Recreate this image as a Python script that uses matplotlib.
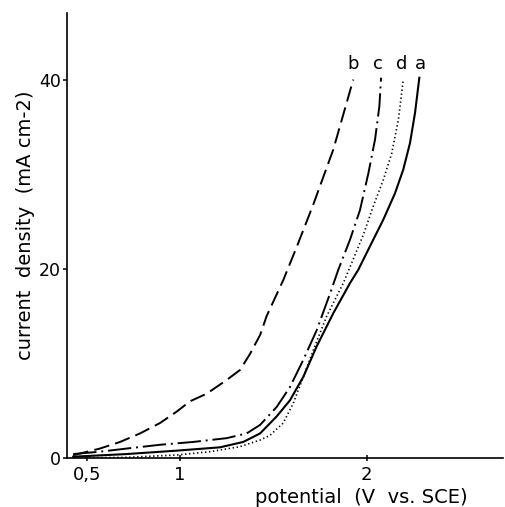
import matplotlib
matplotlib.use('Agg')
import matplotlib.pyplot as plt

# potential (V vs. SCE) and current density (mA cm-2) for the four curves
pot_a = [0.428, 0.714, 0.982, 1.214, 1.339, 1.429, 1.518, 1.589, 1.661, 1.732, 1.821, 1.911,
         1.955, 2.018, 2.089, 2.152, 2.196, 2.232, 2.259, 2.282]
cur_a = [0.14, 0.42, 0.78, 1.13, 1.7, 2.6, 4.4, 6.1, 8.6, 11.8, 15.3, 18.5,
         19.9, 22.4, 25.2, 28.0, 30.5, 33.3, 36.5, 40.2]

pot_b = [0.428, 0.571, 0.679, 0.786, 0.893, 0.982, 1.054, 1.143, 1.25, 1.321, 1.375, 1.429,
         1.464, 1.553, 1.625, 1.714, 1.821, 1.928]
cur_b = [0.3, 1.0, 1.7, 2.6, 3.7, 4.9, 6.0, 6.8, 8.25, 9.3, 11.0, 13.0,
         15.0, 18.8, 22.3, 26.8, 32.6, 40.0]

pot_c = [0.428, 0.571, 0.714, 0.893, 1.071, 1.25, 1.357, 1.429, 1.518, 1.589, 1.661, 1.732,
         1.804, 1.848, 1.911, 1.964, 2.009, 2.045, 2.068, 2.077]
cur_c = [0.42, 0.67, 1.0, 1.4, 1.7, 2.1, 2.6, 3.5, 5.4, 7.5, 10.4, 13.5,
         17.4, 19.9, 23.1, 26.2, 30.1, 33.7, 37.2, 40.2]

pot_d = [0.428, 0.714, 0.982, 1.161, 1.321, 1.375, 1.429, 1.482, 1.553, 1.607, 1.661, 1.714,
         1.786, 1.875, 1.911, 1.982, 2.035, 2.089, 2.134, 2.17, 2.196]
cur_d = [0.0, 0.07, 0.32, 0.67, 1.2, 1.55, 1.9, 2.4, 3.7, 5.8, 8.6, 11.4,
         15.0, 18.5, 20.2, 23.6, 26.6, 29.4, 32.2, 35.8, 40.0]

curve_names = ['b', 'c', 'd', 'a']
name_x = [1.927, 2.06, 2.19, 2.29]
name_y = [41.6, 41.6, 41.6, 41.6]

x_ticks = [0.5, 1, 2]
x_tick_labels = ['0,5', '1', '2']
y_ticks = [0, 20, 40]

fig = plt.figure(figsize=(5.05, 5.07), dpi=100)
ax = fig.add_axes([0.132, 0.0966, 0.864, 0.877])

ax.plot(pot_a, cur_a, color='black', lw=1.5, solid_joinstyle='round')
ax.plot(pot_b, cur_b, color='black', lw=1.4, dashes=(8, 3.2))
ax.plot(pot_c, cur_c, color='black', lw=1.4, dashes=(12, 2.5, 1, 2.5))
ax.plot(pot_d, cur_d, color='black', lw=1.2, dashes=(0.8, 1.6))

for name, nx, ny in zip(curve_names, name_x, name_y):
    ax.text(nx, ny, name, fontsize=13, ha='center', va='center')

ax.set_xlim(0.393, 2.73)
ax.set_ylim(0, 47)
ax.spines['top'].set_visible(False)
ax.spines['right'].set_visible(False)
for s in ['left', 'bottom']:
    ax.spines[s].set_linewidth(1.2)

ax.set_xticks(x_ticks)
ax.set_xticklabels(x_tick_labels)
ax.set_yticks(y_ticks)
ax.tick_params(axis='x', direction='inout', length=5, width=1.1, labelsize=13, pad=3)
ax.tick_params(axis='y', direction='out', length=3, width=1.1, labelsize=12.5, pad=1)

ax.text(0.675, -0.088, 'potential  (V  vs. SCE)', transform=ax.transAxes,
        fontsize=14, ha='center', va='center')
fig.text(0.05, 0.556, 'current  density  (mA cm-2)', rotation=90,
         fontsize=14, ha='center', va='center')

fig.savefig('out.png', dpi=100)
